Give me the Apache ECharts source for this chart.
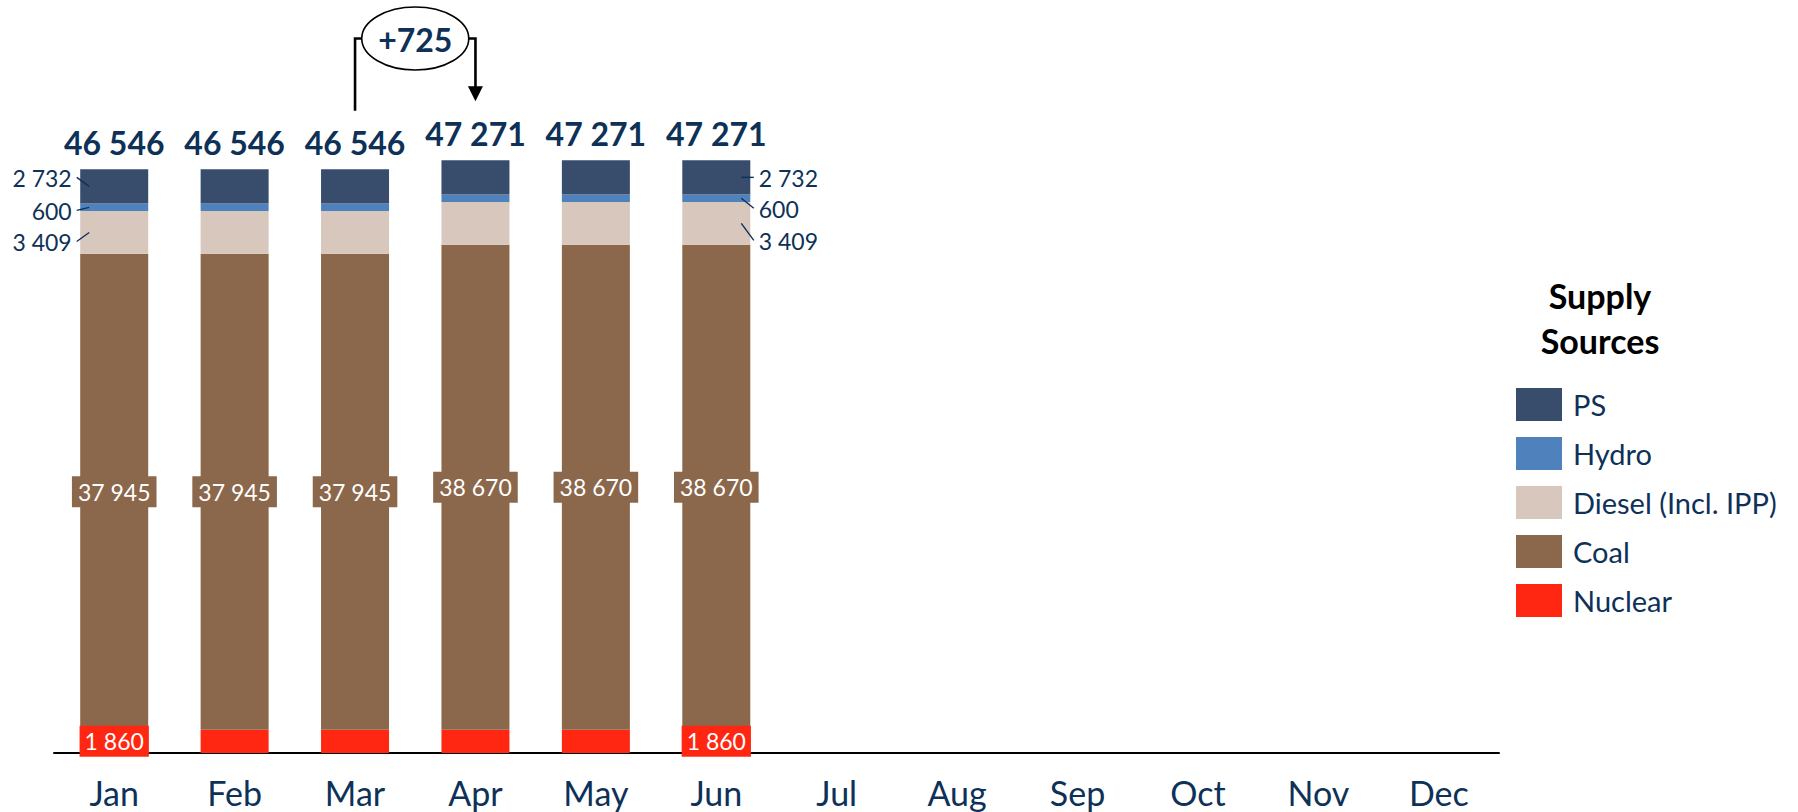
<!DOCTYPE html>
<html><head><meta charset="utf-8">
<script src="https://cdn.jsdelivr.net/npm/echarts@6/dist/echarts.min.js"></script>
<style>html,body{margin:0;padding:0;background:#fff}#c{width:1798px;height:812px}</style>
</head><body><div id="c"></div>
<script>
// ---- data ----
const months = ['Jan','Feb','Mar','Apr','May','Jun','Jul','Aug','Sep','Oct','Nov','Dec'];
const seriesNames = ['PS','Hydro','Diesel (Incl. IPP)','Coal','Nuclear'];
const psValues = [2732, 2732, 2732, 2732, 2732, 2732];
const hydroValues = [600, 600, 600, 600, 600, 600];
const dieselValues = [3409, 3409, 3409, 3409, 3409, 3409];
const coalValues = [37945, 37945, 37945, 38670, 38670, 38670];
const nuclearValues = [1860, 1860, 1860, 1860, 1860, 1860];
const totals = [46546, 46546, 46546, 47271, 47271, 47271];
const changeText = '+725';
const changeFrom = 2, changeTo = 3;       // Mar -> Apr
const nuclearLabelMonths = [0, 5];        // Jan, Jun
const sideLabelLeftMonth = 0, sideLabelRightMonth = 5;

// ---- style ----
const NAVY = '#0e3158';
const COLORS = ['#384d6c', '#4f81bd', '#d8c7bc', '#8b674b', '#ff2712'];
const FONT = 'Lato, "Open Sans", sans-serif';
const BAR_W = 68;
const fmt = v => String(v).replace(/\B(?=(\d{3})+(?!\d))/g, ' ');

const chart = echarts.init(document.getElementById('c'), null, {renderer: 'svg'});

function bar(name, data, color, extra) {
  return Object.assign({
    name, type: 'bar', stack: 'supply', data, barWidth: BAR_W,
    itemStyle: {color},
    emphasis: {disabled: true}
  }, extra || {});
}

chart.setOption({
  animation: false,
  title: {
    text: 'Supply\nSources', left: 1595, top: 268, textAlign: 'center',
    textStyle: {fontFamily: FONT, fontWeight: 'bold', fontSize: 34, lineHeight: 45, color: '#000'}
  },
  legend: {
    orient: 'vertical', left: 1516, top: 388, itemWidth: 46, itemHeight: 33, itemGap: 16,
    icon: 'rect', padding: 0, selectedMode: false,
    data: seriesNames,
    textStyle: {fontFamily: FONT, fontSize: 29, color: NAVY, padding: [0, 0, 0, 6]}
  },
  grid: {left: 54, right: 299, top: 126, bottom: 59},
  xAxis: {
    type: 'category', data: months,
    axisLine: {lineStyle: {color: '#000', width: 2}},
    axisTick: {show: false},
    axisLabel: {fontFamily: FONT, fontSize: 34, color: NAVY, margin: 22}
  },
  yAxis: {type: 'value', min: 0, max: 50000, show: false},
  series: [
    bar('Nuclear', nuclearValues.map((v, i) => ({
      value: v, label: {show: nuclearLabelMonths.indexOf(i) >= 0}
    })), COLORS[4], {
      label: {position: 'inside', color: '#fff', backgroundColor: COLORS[4], padding: [4, 5],
        fontFamily: FONT, fontSize: 23, formatter: p => fmt(p.value)}
    }),
    bar('Coal', coalValues, COLORS[3], {
      label: {show: true, position: 'inside', color: '#fff', backgroundColor: COLORS[3], padding: [4, 6],
        fontFamily: FONT, fontSize: 23, formatter: p => fmt(p.value)}
    }),
    bar('Diesel (Incl. IPP)', dieselValues, COLORS[2]),
    bar('Hydro', hydroValues, COLORS[1]),
    bar('PS', psValues, COLORS[0], {
      label: {show: true, position: 'top', distance: 11, color: NAVY, fontFamily: FONT,
        fontWeight: 'bold', fontSize: 32, formatter: p => fmt(totals[p.dataIndex])}
    })
  ]
});

// ---- annotations placed through the chart's own scales ----
const px = (i, v) => chart.convertToPixel({gridIndex: 0}, [i, v]);
const g = [];
const lineStyle = {stroke: NAVY, lineWidth: 1.4};

function segMids(i) {
  const c1 = nuclearValues[i] + coalValues[i];
  const c2 = c1 + dieselValues[i];
  const c3 = c2 + hydroValues[i];
  return [
    {v: psValues[i], y: px(i, c3 + psValues[i] / 2)[1]},
    {v: hydroValues[i], y: px(i, c2 + hydroValues[i] / 2)[1]},
    {v: dieselValues[i], y: px(i, c1 + dieselValues[i] / 2)[1]}
  ];
}

function sideLabels(i, side, dys) {
  const cx = px(i, 0)[0];
  const edge = side === 'left' ? cx - BAR_W / 2 : cx + BAR_W / 2;
  const s = side === 'left' ? -1 : 1;
  segMids(i).forEach((m, k) => {
    const ly = m.y + dys[k];
    g.push({type: 'line', silent: true, z: 100, shape: {x1: edge - s * 9, y1: m.y, x2: edge + s * 3.5, y2: ly - 1}, style: lineStyle});
    g.push({type: 'text', silent: true, z: 100, style: {
      text: fmt(m.v), x: edge + s * 8.5, y: ly,
      align: side === 'left' ? 'right' : 'left', verticalAlign: 'middle',
      textAlign: side === 'left' ? 'right' : 'left', textVerticalAlign: 'middle',
      fill: NAVY, font: '23px ' + FONT
    }});
  });
}
sideLabels(sideLabelLeftMonth, 'left', [-8, 4, 10]);
sideLabels(sideLabelRightMonth, 'right', [1, 11, 18]);

// +725 bracket
const xA = px(changeFrom, 0)[0], xB = px(changeTo, 0)[0];
const yA = px(changeFrom, totals[changeFrom])[1] - 58.5;
const yB = px(changeTo, totals[changeTo])[1] - 59;
const topY = 38.5, ecx = (xA + xB) / 2, rx = 53.5, ry = 31.5;
const blk = {stroke: '#000', lineWidth: 2.6, fill: null};
g.push({type: 'polyline', silent: true, z: 100, shape: {points: [[xA, yA], [xA, topY], [ecx - rx, topY]]}, style: blk});
g.push({type: 'polyline', silent: true, z: 100, shape: {points: [[ecx + rx, topY], [xB, topY], [xB, yB - 14]]}, style: blk});
g.push({type: 'polygon', silent: true, z: 100, shape: {points: [[xB - 7.5, yB - 15], [xB + 7.5, yB - 15], [xB, yB]]}, style: {fill: '#000'}});
g.push({type: 'ellipse', silent: true, z: 100, shape: {cx: ecx, cy: topY, rx: rx, ry: ry}, style: {fill: '#fff', stroke: '#000', lineWidth: 1.6}});
g.push({type: 'text', silent: true, z: 101, style: {
  text: changeText, x: ecx, y: topY + 1, align: 'center', verticalAlign: 'middle',
  textAlign: 'center', textVerticalAlign: 'middle',
  fill: NAVY, font: 'bold 32px ' + FONT
}});

chart.setOption({graphic: g});
</script></body></html>
